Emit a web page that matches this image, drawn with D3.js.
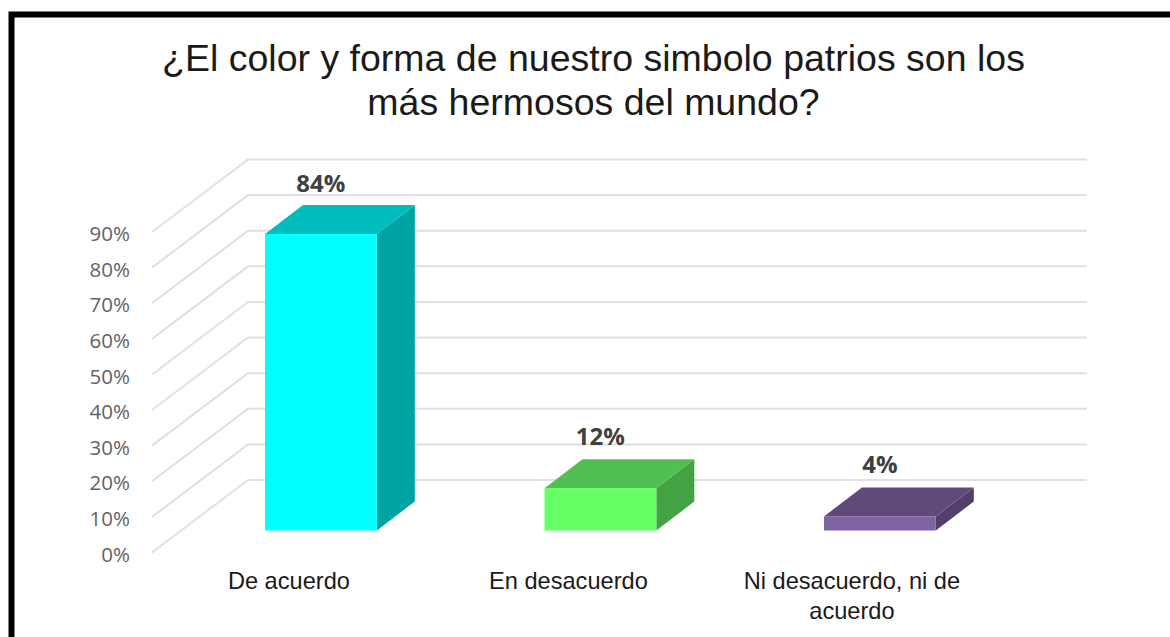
<!DOCTYPE html>
<html lang="es">
<head>
<meta charset="UTF-8">
<title>Simbolos patrios</title>
<style>
  html, body { margin: 0; padding: 0; background: #fff; }
  svg { display: block; }
  .title { font-family: "Liberation Sans", Arial, sans-serif; font-size: 37.5px; fill: #1a1a1a; text-anchor: middle; }
  .cat { font-family: "Liberation Sans", Arial, sans-serif; font-size: 23.6px; fill: #1a1a1a; text-anchor: middle; }
  .val { font-family: "Open Sans", sans-serif; font-size: 24px; font-weight: 700; fill: #404040; text-anchor: middle; }
  .tick text { font-family: "Open Sans", sans-serif; font-size: 20.5px; fill: #636363; }
</style>
</head>
<body>
<svg id="chart" width="1170" height="637"></svg>
<script src="https://d3js.org/d3.v7.min.js"></script>
<script>
const categories = ["De acuerdo", "En desacuerdo", "Ni desacuerdo, ni de acuerdo"];
const values = [84, 12, 4];
const tickValues = [0, 10, 20, 30, 40, 50, 60, 70, 80, 90];
const titleLines = ["¿El color y forma de nuestro simbolo patrios son los", "más hermosos del mundo?"];
const categoryLines = [["De acuerdo"], ["En desacuerdo"], ["Ni desacuerdo, ni de", "acuerdo"]];

const frontColors = ["#00ffff", "#66ff66", "#8064a2"];
const topColors = ["#00bdbd", "#50c050", "#604a7b"];
const sideColors = ["#00a3a3", "#43a343", "#533f6b"];

const svg = d3.select("#chart");

// frame, only top and left are visible in the picture
svg.append("path")
  .attr("d", "M11.5,637V14.5H1170")
  .attr("fill", "none")
  .attr("stroke", "#000")
  .attr("stroke-width", 6);

svg.selectAll(".title").data(titleLines).enter().append("text")
  .attr("class", "title")
  .attr("x", 593.5)
  .attr("y", (d, i) => 71 + i * 44)
  .text(d => d);

// wall scale (front edge of the floor) and bar scale (front face of the bars)
const wallY = d3.scaleLinear().domain([0, 90]).range([552.5, 232]);
const barY = d3.scaleLinear().domain([0, 90]).range([530.5, 212.8]);
const x = d3.scaleBand().domain(categories).range([181.15, 1019.65]).paddingInner(0.6).paddingOuter(0.3);

const wallDx = 96, wallDy = -72.5, wallRight = 1087;
const depthX = 38, depthY = -29;
const catShift = [-32, -32, -28];

// gridlines
svg.append("g").selectAll("path").data(tickValues).enter().append("path")
  .attr("d", d => {
    const y0 = wallY(d);
    return `M152,${y0}L${152 + wallDx},${y0 + wallDy}H${wallRight}`;
  })
  .attr("fill", "none")
  .attr("stroke", "#e0e0e0")
  .attr("stroke-width", 2);

// y axis labels
const axis = svg.append("g")
  .attr("transform", "translate(130,2)")
  .call(d3.axisLeft(wallY).tickValues(tickValues).tickSize(0).tickPadding(0).tickFormat(d => d + "%"));
axis.select(".domain").remove();

// bars
const bars = svg.append("g").selectAll("g").data(categories).enter().append("g");

bars.append("path")
  .attr("fill", (d, i) => sideColors[i])
  .attr("d", (d, i) => {
    const r = x(d) + x.bandwidth(), t = barY(values[i]), b = barY(0);
    return `M${r},${t}L${r + depthX},${t + depthY}V${b + depthY}L${r},${b}Z`;
  });

bars.append("path")
  .attr("fill", (d, i) => topColors[i])
  .attr("d", (d, i) => {
    const l = x(d), r = l + x.bandwidth(), t = barY(values[i]);
    return `M${l},${t}L${l + depthX},${t + depthY}H${r + depthX}L${r},${t}Z`;
  });

bars.append("rect")
  .attr("fill", (d, i) => frontColors[i])
  .attr("x", d => x(d))
  .attr("width", x.bandwidth())
  .attr("y", (d, i) => barY(values[i]))
  .attr("height", (d, i) => barY(0) - barY(values[i]));

// value labels
bars.append("text")
  .attr("class", "val")
  .attr("x", d => x(d) + x.bandwidth() / 2)
  .attr("y", (d, i) => barY(values[i]) + depthY - (i === 0 ? 13 : 14))
  .text((d, i) => values[i] + "%");

// category labels, shifted left of the bar as in the 3D projection
bars.each(function (d, i) {
  d3.select(this).selectAll(".cat").data(categoryLines[i]).enter().append("text")
    .attr("class", "cat")
    .attr("x", x(d) + x.bandwidth() / 2 + catShift[i])
    .attr("y", (line, j) => 589 + j * 30)
    .text(line => line);
});
</script>
</body>
</html>
